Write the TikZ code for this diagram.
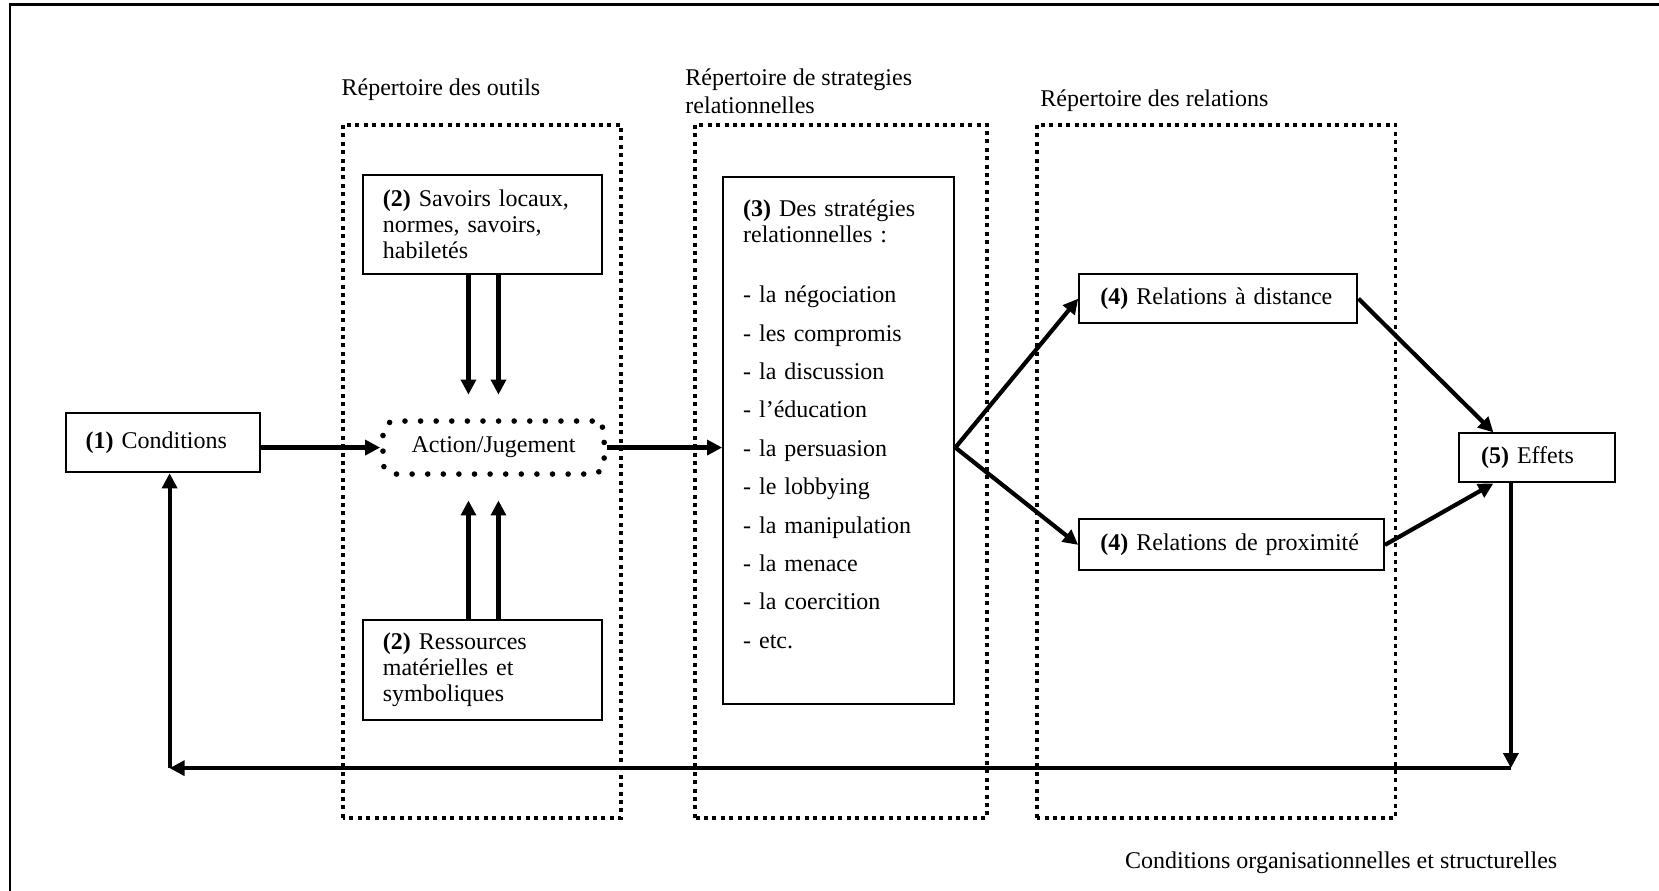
\documentclass[tikz,border=0pt]{standalone}
\usepackage{fontspec}
\setmainfont{Liberation Serif}
\usetikzlibrary{arrows.meta}

\begin{document}
\begin{tikzpicture}[x=0.529pt,y=0.529pt,
	every node/.style={font=\fontsize{12}{13}\selectfont, inner sep=0pt},
	box/.style={draw, line width=1pt, align=left, inner xsep=10pt},
	dotframe/.style={line width=1.7pt, dash pattern=on 2pt off 2.2pt},
	dotround/.style={draw, line width=2.8pt, dash pattern=on 0pt off 7.8pt, line cap=round, rounded corners=6pt},
	arr/.style={line width=2.1pt, -{Triangle[length=7.5pt,width=7.4pt]}},
	back/.style={line width=1.9pt, -{Triangle[length=7.5pt,width=7.4pt]}}]
	
	\useasboundingbox (0,0) rectangle (1568,842);
	
	\draw [line width=1.3pt] (9.5,0) -- (9.5,837.5) -- (1568,837.5);
	
	\draw [dotframe] (324,69) rectangle (587,724);
	\draw [dotframe] (657,69) rectangle (933,724);
	\draw [dotframe] (980,69) rectangle (1319,724);
	
	\node [anchor=base west] (lab1) at (322.5,752.2) {Répertoire des outils};
	\node [anchor=base west, align=left] (lab2) at (647.5,735) {Répertoire de strategies\\[1pt]relationnelles};
	\node [anchor=base west] (lab3) at (983,741) {Répertoire des relations};
	\node [anchor=base west] (labc) at (1063,21) {Conditions organisationnelles et structurelles};
	
	\node [box, text width=77.3pt, minimum height=29.8pt] (cond) at (154,423.8) {\textbf{(1)} Conditions};
	
	\node [dotround, minimum width=110.6pt, minimum height=26.5pt] (act) at (466.5,419) {Action/Jugement};
	
	\node [box, text width=99.6pt, minimum height=49.7pt] (sav) at (456,629.6) {\textbf{(2)} Savoirs locaux,\\normes, savoirs,\\habiletés};
	\node [box, text width=99.6pt, minimum height=50pt] (res) at (456,208.8) {\textbf{(2)} Ressources\\matérielles et\\symboliques};
	
	\node [box, text width=95.6pt, text height=19.8pt, text depth=243.6pt] (strat) at (792.75,425.55) {\textbf{(3)} Des stratégies\\relationnelles :\\[16.9pt]- la négociation\\[6.2pt]- les compromis\\[6.2pt]- la discussion\\[6.2pt]- l’éducation\\[6.2pt]- la persuasion\\[6.2pt]- le lobbying\\[6.2pt]- la manipulation\\[6.2pt]- la menace\\[6.2pt]- la coercition\\[6.2pt]- etc.};
	
	\node [box, inner xsep=10.6pt, text width=117.9pt, minimum height=24.7pt] (dist) at (1151.5,559.7) {\textbf{(4)} Relations à distance};
	\node [box, inner xsep=10.6pt, text width=131.2pt, minimum height=25.4pt] (prox) at (1164,327) {\textbf{(4)} Relations de proximité};
	
	\node [box, inner xsep=11pt, text width=55.8pt, minimum height=24.5pt] (eff) at (1452.5,409.2) {\textbf{(5)} Effets};
	
	\draw [arr] (cond.east |- act.west) -- (act.west);
	\draw [arr] (act.east) -- (act.east -| strat.west);
	
	\draw [arr, shorten >=11.8pt] ([xshift=-7pt]sav.south) -- ([xshift=-7pt]sav.south |- act.north);
	\draw [arr, shorten >=11.8pt] ([xshift=8pt]sav.south) -- ([xshift=8pt]sav.south |- act.north);
	\draw [arr, shorten >=11.8pt] ([xshift=-7pt]res.north) -- ([xshift=-7pt]res.north |- act.south);
	\draw [arr, shorten >=11.8pt] ([xshift=8pt]res.north) -- ([xshift=8pt]res.north |- act.south);
	
	\coordinate (fork) at (act.east -| strat.east);
	\draw [arr] (fork) -- (dist.west);
	\draw [arr] (fork) -- (prox.west);
	
	\draw [arr] (dist.east) -- ([xshift=-21.7pt]eff.north);
	\draw [arr] (prox.east) -- ([xshift=-21.7pt]eff.south);
	
	\coordinate (backR) at (1428,116);
	\coordinate (backL) at (160.3,116);
	\draw [back] (backR |- eff.south) -- (backR);
	\draw [back] (backR) -- (backL);
	\draw [back] (backL) -- (backL |- cond.south);
	
\end{tikzpicture}
\end{document}
